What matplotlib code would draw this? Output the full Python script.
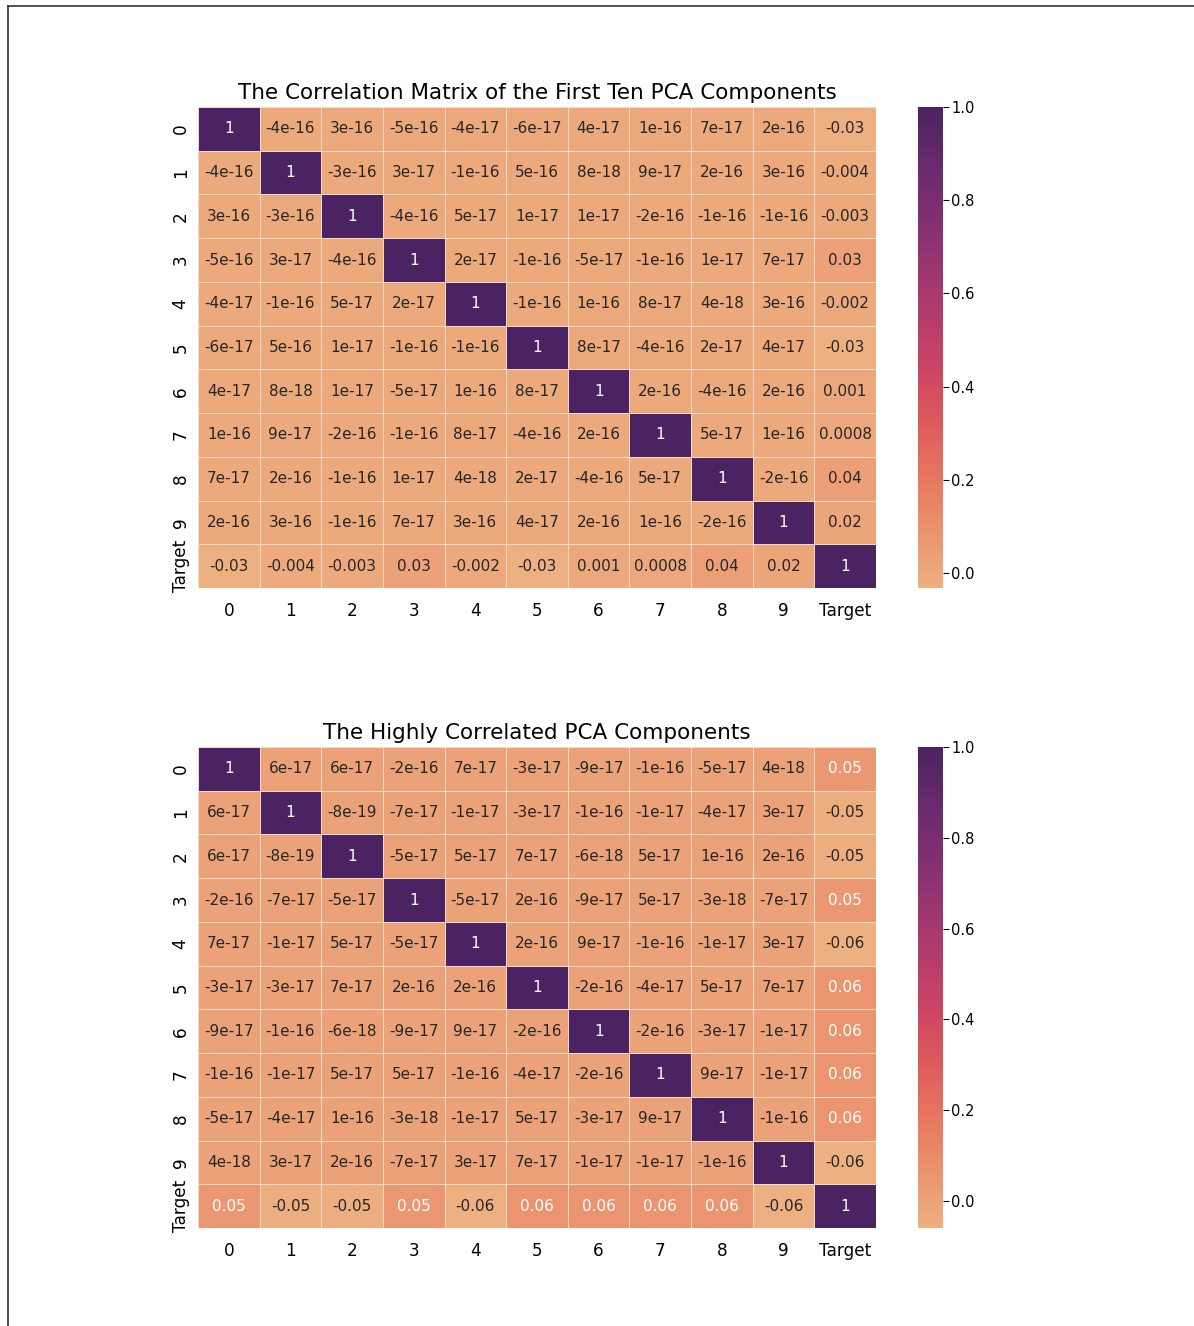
import numpy as np
import pandas as pd
import matplotlib
matplotlib.use("Agg")
import matplotlib.pyplot as plt
from matplotlib.lines import Line2D
import seaborn as sns

labels = ["0", "1", "2", "3", "4", "5", "6", "7", "8", "9", "Target"]

# correlation of the first ten PCA components + target (values as shown, .1g)
corr_first = [
    [1, -4e-16, 3e-16, -5e-16, -4e-17, -6e-17, 4e-17, 1e-16, 7e-17, 2e-16, -0.032],
    [-4e-16, 1, -3e-16, 3e-17, -1e-16, 5e-16, 8e-18, 9e-17, 2e-16, 3e-16, -0.004],
    [3e-16, -3e-16, 1, -4e-16, 5e-17, 1e-17, 1e-17, -2e-16, -1e-16, -1e-16, -0.003],
    [-5e-16, 3e-17, -4e-16, 1, 2e-17, -1e-16, -5e-17, -1e-16, 1e-17, 7e-17, 0.03],
    [-4e-17, -1e-16, 5e-17, 2e-17, 1, -1e-16, 1e-16, 8e-17, 4e-18, 3e-16, -0.002],
    [-6e-17, 5e-16, 1e-17, -1e-16, -1e-16, 1, 8e-17, -4e-16, 2e-17, 4e-17, -0.03],
    [4e-17, 8e-18, 1e-17, -5e-17, 1e-16, 8e-17, 1, 2e-16, -4e-16, 2e-16, 0.001],
    [1e-16, 9e-17, -2e-16, -1e-16, 8e-17, -4e-16, 2e-16, 1, 5e-17, 1e-16, 0.0008],
    [7e-17, 2e-16, -1e-16, 1e-17, 4e-18, 2e-17, -4e-16, 5e-17, 1, -2e-16, 0.04],
    [2e-16, 3e-16, -1e-16, 7e-17, 3e-16, 4e-17, 2e-16, 1e-16, -2e-16, 1, 0.02],
    [-0.032, -0.004, -0.003, 0.03, -0.002, -0.03, 0.001, 0.0008, 0.04, 0.02, 1],
]

# highly correlated components + target
corr_high = [
    [1, 6e-17, 6e-17, -2e-16, 7e-17, -3e-17, -9e-17, -1e-16, -5e-17, 4e-18, 0.05],
    [6e-17, 1, -8e-19, -7e-17, -1e-17, -3e-17, -1e-16, -1e-17, -4e-17, 3e-17, -0.05],
    [6e-17, -8e-19, 1, -5e-17, 5e-17, 7e-17, -6e-18, 5e-17, 1e-16, 2e-16, -0.05],
    [-2e-16, -7e-17, -5e-17, 1, -5e-17, 2e-16, -9e-17, 5e-17, -3e-18, -7e-17, 0.05],
    [7e-17, -1e-17, 5e-17, -5e-17, 1, 2e-16, 9e-17, -1e-16, -1e-17, 3e-17, -0.06],
    [-3e-17, -3e-17, 7e-17, 2e-16, 2e-16, 1, -2e-16, -4e-17, 5e-17, 7e-17, 0.06],
    [-9e-17, -1e-16, -6e-18, -9e-17, 9e-17, -2e-16, 1, -2e-16, -3e-17, -1e-17, 0.06],
    [-1e-16, -1e-17, 5e-17, 5e-17, -1e-16, -4e-17, -2e-16, 1, 9e-17, -1e-17, 0.06],
    [-5e-17, -4e-17, 1e-16, -3e-18, -1e-17, 5e-17, -3e-17, 9e-17, 1, -1e-16, 0.06],
    [4e-18, 3e-17, 2e-16, -7e-17, 3e-17, 7e-17, -1e-17, -1e-17, -1e-16, 1, -0.06],
    [0.05, -0.05, -0.05, 0.05, -0.06, 0.06, 0.06, 0.06, 0.06, -0.06, 1],
]

titles = ["The Correlation Matrix of the First Ten PCA Components",
          "The Highly Correlated PCA Components"]

W, H = 1194, 1326
fig = plt.figure(figsize=(W / 100, H / 100), dpi=100)

def px_axes(x0, y0, x1, y1):
    return fig.add_axes([x0 / W, 1 - y1 / H, (x1 - x0) / W, (y1 - y0) / H])

tops = [107, 747]
for mat, title, top in zip([corr_first, corr_high], titles, tops):
    df = pd.DataFrame(mat, index=labels, columns=labels)
    ax = px_axes(198, top, 876, top + 481)
    cax = px_axes(918, top, 943, top + 481)
    sns.heatmap(df, annot=True, fmt=".1g", cmap="flare", ax=ax, cbar_ax=cax,
                linewidths=0.5, linecolor="#f3d9c6",
                annot_kws={"size": 11})
    ax.set_title(title, fontsize=15.5, pad=6)
    ax.tick_params(axis="both", length=0, labelsize=12.2, pad=10)
    ax.tick_params(axis="y", pad=6)
    plt.setp(ax.get_yticklabels(), rotation=90, va="center")
    cax.tick_params(labelsize=10.5, length=4, pad=2)
    cax.set_yticks([0.0, 0.2, 0.4, 0.6, 0.8, 1.0])

# thin frame lines on the left and top edges
fig.add_artist(Line2D([8 / W, 8 / W], [0, 1 - 6 / H], color="#333333", lw=1.2))
fig.add_artist(Line2D([8 / W, 1], [1 - 6 / H, 1 - 6 / H], color="#333333", lw=1.2))

fig.savefig("out.png", dpi=100)
